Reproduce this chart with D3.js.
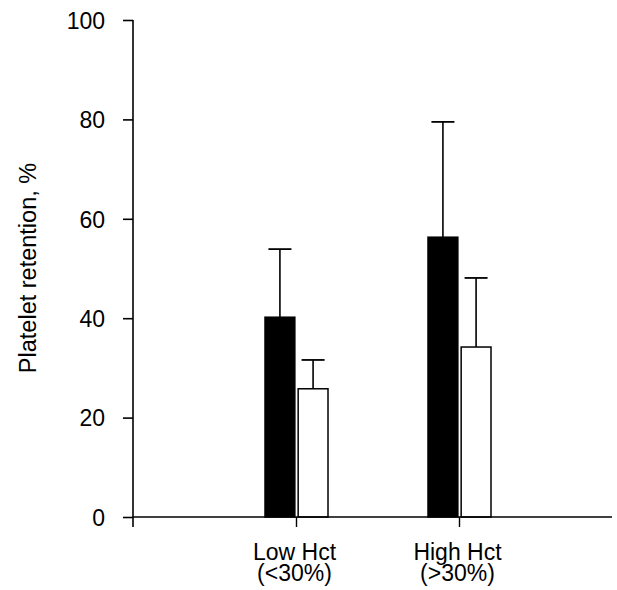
<!DOCTYPE html>
<html>
<head>
<meta charset="utf-8">
<script src="https://cdn.jsdelivr.net/npm/d3@7"></script>
<style>
body{margin:0;background:#fff;}
text{font-family:"Liberation Sans",Arial,sans-serif;fill:#000;}
</style>
</head>
<body>
<svg id="chart" width="617" height="590"></svg>
<script>
// data
const groups=['Low Hct','High Hct'];
const groupSub=['(<30%)','(>30%)'];
const series=['black','white'];
const means=[[40.2,25.8],[56.3,34.2]];
const errTop=[[53.9,31.6],[79.5,48.1]];
const yTicks=[0,20,40,60,80,100];

const svg=d3.select('#chart');
const fills={black:'#000',white:'#fff'};

const y=d3.scaleLinear().domain([0,100]).range([517,20]);
const x=d3.scaleBand().domain(groups).range([215,541]).padding(0);
const xs=d3.scaleBand().domain(series).range([0,63]).paddingInner(0.1);

const g=svg.append('g');

// bars
groups.forEach((grp,gi)=>{
	const cx=x(grp)+x.bandwidth()/2;
	const bg=g.append('g').attr('transform','translate('+(cx-31.5)+',0)');
	series.forEach((s,si)=>{
		const bx=xs(s), bw=xs.bandwidth();
		const top=y(means[gi][si]), et=y(errTop[gi][si]);
		const mid=bx+bw/2;
		bg.append('line').attr('x1',mid).attr('x2',mid).attr('y1',top).attr('y2',et)
			.attr('stroke','#000').attr('stroke-width',1.6);
		bg.append('line').attr('x1',mid-11.5).attr('x2',mid+11.5).attr('y1',et).attr('y2',et)
			.attr('stroke','#000').attr('stroke-width',1.8);
		bg.append('rect').attr('x',bx).attr('y',top)
			.attr('width',bw).attr('height',y(0)-top)
			.attr('fill',fills[s]).attr('stroke','#000').attr('stroke-width',1.5);
	});
});

// y axis
const axisY=d3.axisLeft(y).tickValues(yTicks).tickSize(10).tickPadding(18);
const ay=g.append('g').attr('transform','translate(133,0)').call(axisY);
ay.select('.domain').attr('d','M0,'+y(100)+'V527').attr('stroke-width',1.6);
ay.selectAll('.tick line').attr('stroke-width',1.6);
ay.selectAll('.tick text').style('font-size','23px').attr('dy','0.36em');

// x axis
const axisX=d3.axisBottom(x).tickSize(10).tickFormat('');
const ax=g.append('g').attr('transform','translate(0,'+y(0)+')').call(axisX);
ax.select('.domain').attr('d','M133,0H612').attr('stroke-width',1.6);
ax.selectAll('.tick line').attr('stroke-width',1.4);

// category labels
groups.forEach((grp,gi)=>{
	const cx=x(grp)+x.bandwidth()/2-2;
	g.append('text').attr('x',cx).attr('y',560).attr('text-anchor','middle')
		.style('font-size','23px').text(grp);
	g.append('text').attr('x',cx).attr('y',581).attr('text-anchor','middle')
		.style('font-size','23px').text(groupSub[gi]);
});

// y label
g.append('text').attr('transform','translate(36,268) rotate(-90)')
	.attr('text-anchor','middle').style('font-size','23.5px')
	.text('Platelet retention, %');
</script>
</body>
</html>
